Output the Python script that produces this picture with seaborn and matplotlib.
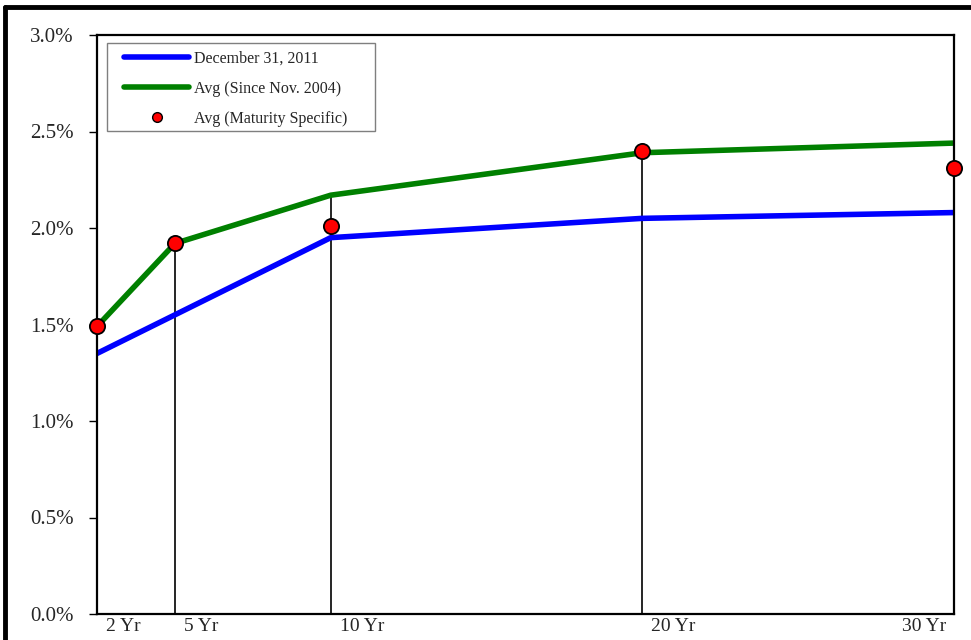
import matplotlib
matplotlib.use("Agg")
import matplotlib.pyplot as plt
import matplotlib.transforms as mtransforms
from matplotlib.lines import Line2D
from matplotlib.patches import Rectangle
import numpy as np
import pandas as pd
import seaborn as sns

# Maturity buckets and their positions on the maturity axis
tenor_labels = ["2 Yr", "5 Yr", "10 Yr", "20 Yr", "30 Yr"]
tenor_pos = [2.5, 5, 10, 20, 30]

# Yields in percent
dec_2011 = [1.35, 1.55, 1.95, 2.05, 2.08]
avg_since_2004 = [1.49, 1.92, 2.17, 2.39, 2.44]
avg_maturity_specific = [1.49, 1.92, 2.01, 2.40, 2.31]

y_ticks = [0.0, 0.5, 1.0, 1.5, 2.0, 2.5, 3.0]

sns.set_theme(style="white")
plt.rcParams["font.family"] = ["Liberation Serif", "DejaVu Serif"]

df = pd.DataFrame({
    "pos": tenor_pos * 2,
    "yield": dec_2011 + avg_since_2004,
    "series": ["December 31, 2011"] * 5 + ["Avg (Since Nov. 2004)"] * 5,
})
dots = pd.DataFrame({"pos": tenor_pos, "yield": avg_maturity_specific})

fig = plt.figure(figsize=(9.71, 6.40), dpi=100)
ax = fig.add_axes([97 / 971, 1 - 614 / 640, (954 - 97) / 971, (614 - 35) / 640])

# Drop lines from the highest value at each maturity down to zero
tops = np.max(np.vstack([dec_2011, avg_since_2004, avg_maturity_specific]), axis=0)
ax.vlines(tenor_pos, 0, tops, color="black", lw=1.2, zorder=1)

sns.lineplot(data=df, x="pos", y="yield", hue="series",
             palette={"December 31, 2011": "#0000FF",
                      "Avg (Since Nov. 2004)": "#008000"},
             lw=4.0, ax=ax, legend=False, zorder=2)
sns.scatterplot(data=dots, x="pos", y="yield", color="#FF0000",
                edgecolor="black", linewidth=1.3, s=120, ax=ax,
                zorder=4, clip_on=False)

ax.set_xlim(2.5, 30)
ax.set_ylim(0, 3.0)
ax.set_xlabel("")
ax.set_ylabel("")

ax.set_yticks(y_ticks)
ax.set_yticklabels([f"{v:.1f}%" for v in y_ticks], fontsize=15)
ax.tick_params(axis="y", direction="out", length=6, width=1, color="black",
               pad=11, left=True)

ax.set_xticks(tenor_pos)
ax.set_xticklabels(tenor_labels, fontsize=14)
ax.tick_params(axis="x", length=0, pad=3)
for i, lab in enumerate(ax.get_xticklabels()):
    if i == len(tenor_pos) - 1:
        lab.set_ha("right")
        dx = -8
    else:
        lab.set_ha("left")
        dx = 9
    lab.set_transform(lab.get_transform() +
                      mtransforms.ScaledTranslation(dx / 100, 0, fig.dpi_scale_trans))

for sp in ax.spines.values():
    sp.set_visible(True)
    sp.set_color("black")
    sp.set_linewidth(1.6)

# Legend box, drawn separately so the entries can sit inset within it
ax.add_patch(Rectangle((107 / 971, 1 - 131 / 640), 268 / 971, 88 / 640,
                       transform=fig.transFigure, facecolor="white",
                       edgecolor="#7f7f7f", lw=1.0, zorder=4.5, clip_on=False))

handles = [
    Line2D([], [], color="#0000FF", lw=4.0),
    Line2D([], [], color="#008000", lw=4.0),
    Line2D([], [], color="none", marker="o", markerfacecolor="#FF0000",
           markeredgecolor="black", markersize=7),
]
leg = ax.legend(handles, ["December 31, 2011", "Avg (Since Nov. 2004)",
                          "Avg (Maturity Specific)"],
                loc="upper left", bbox_to_anchor=(124 / 971, 1 - 51 / 640),
                bbox_transform=fig.transFigure, borderaxespad=0,
                fontsize=11.5, handlelength=4.1, handletextpad=0.3,
                labelspacing=0.87, borderpad=0, frameon=False)

# Outer frame around the chart
fig.add_artist(Line2D([5 / 971, 5 / 971], [0, 1 - 7 / 640], transform=fig.transFigure,
                      color="black", lw=3.5))
fig.add_artist(Line2D([5 / 971, 1], [1 - 7 / 640, 1 - 7 / 640], transform=fig.transFigure,
                      color="black", lw=3.5))

fig.savefig("out.png", dpi=100, facecolor="white")
